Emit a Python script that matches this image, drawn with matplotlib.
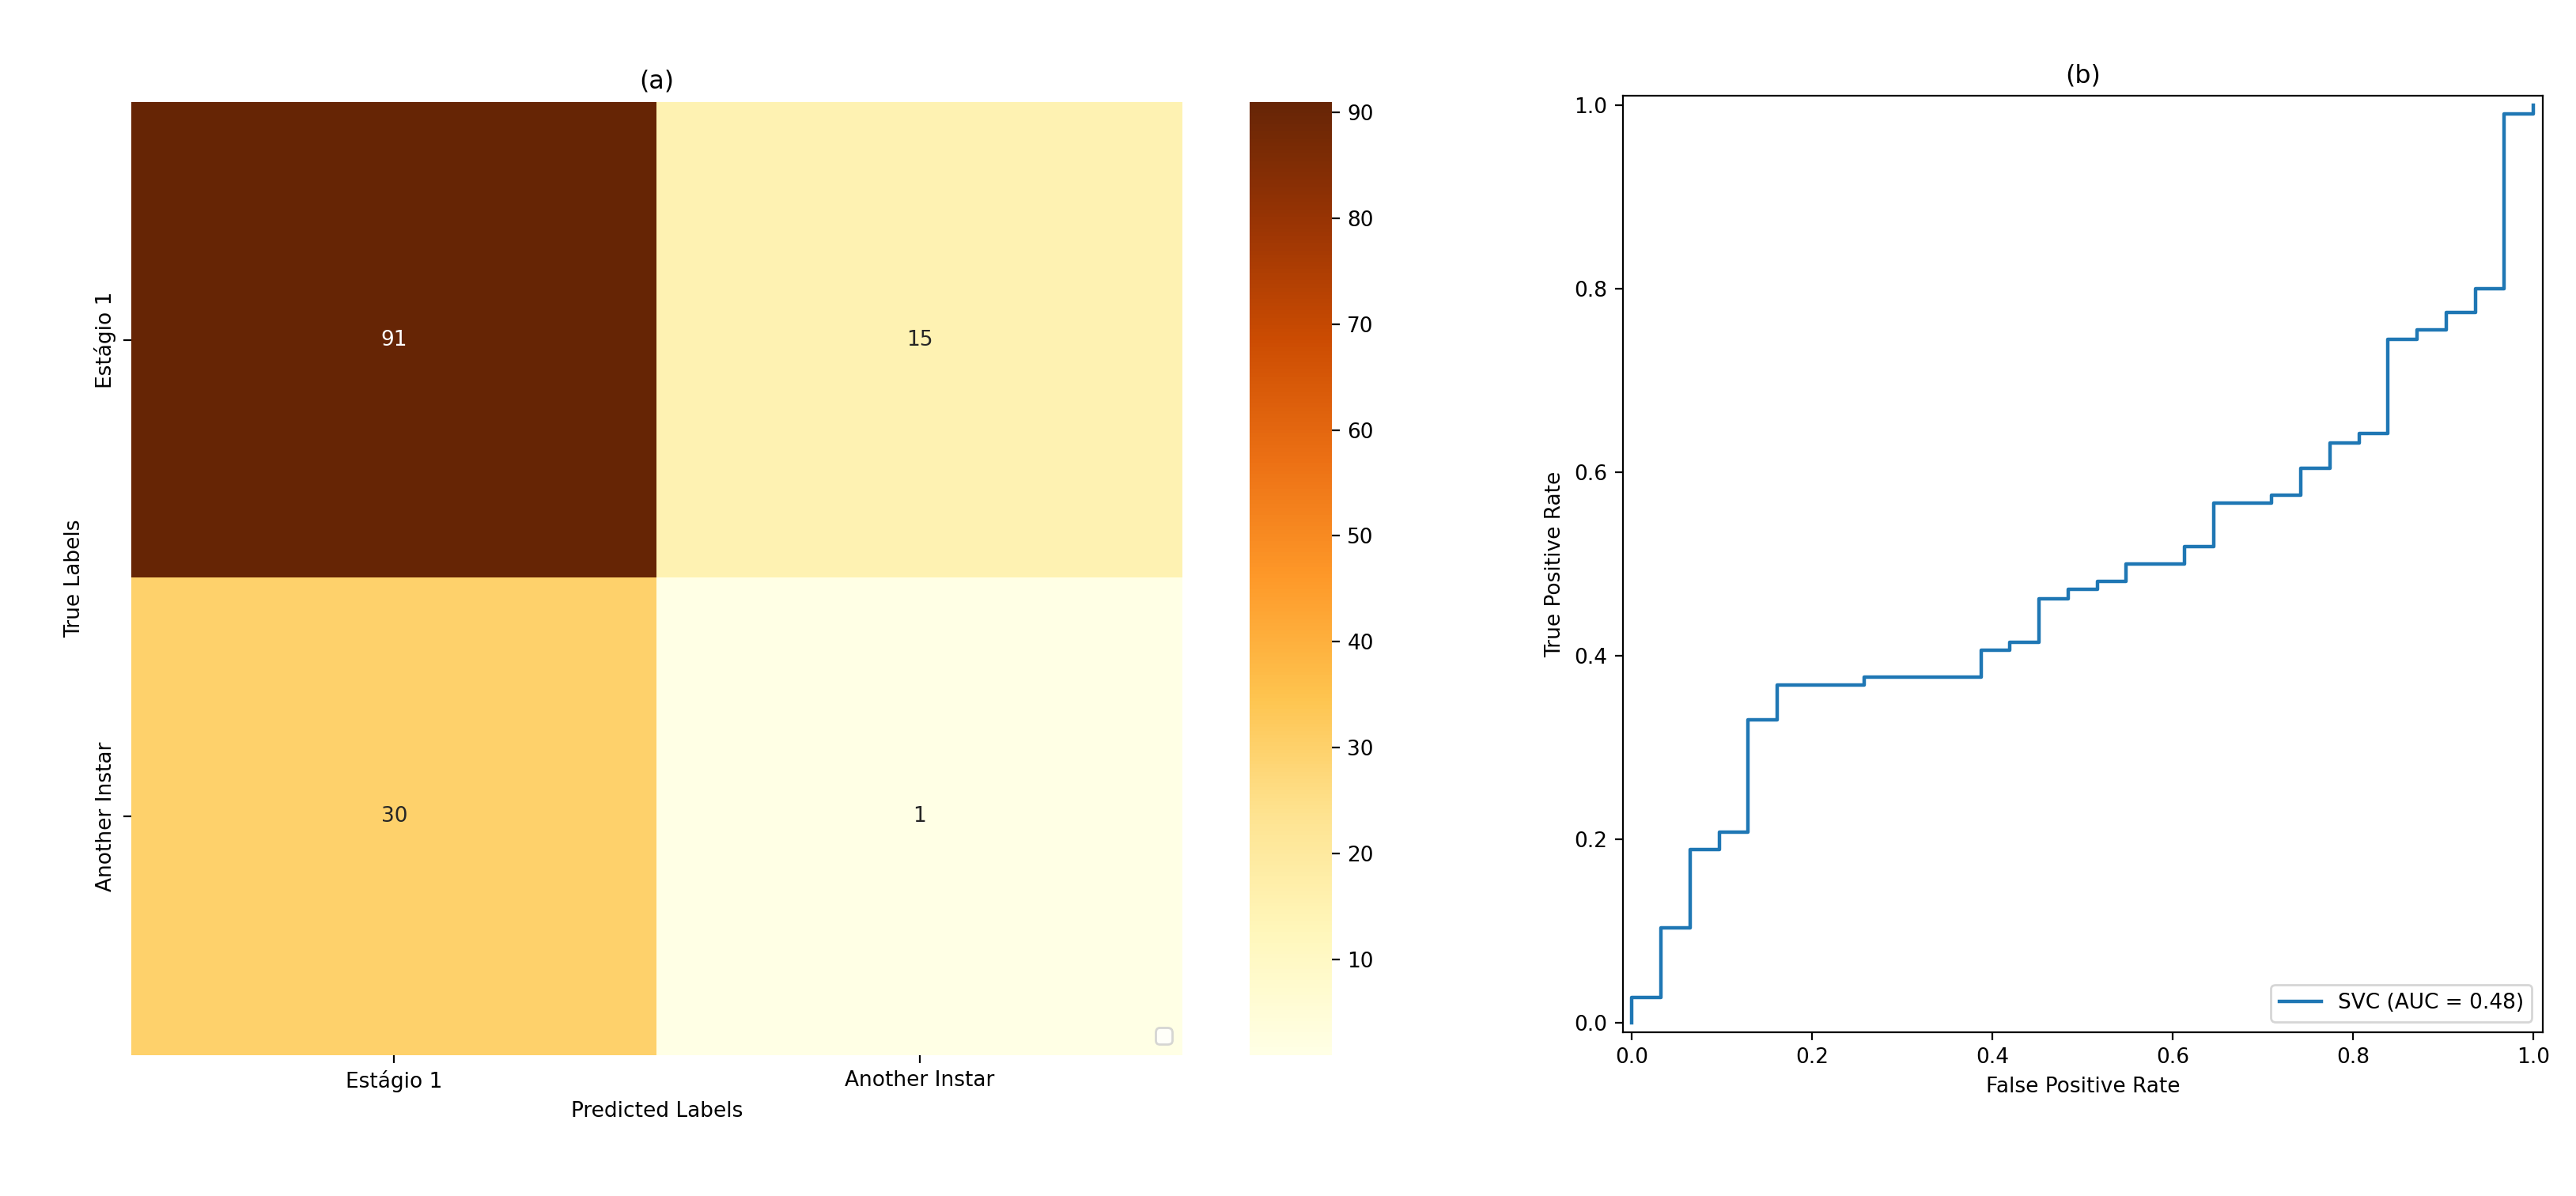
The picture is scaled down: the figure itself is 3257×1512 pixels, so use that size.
import matplotlib
matplotlib.use("Agg")
import matplotlib.pyplot as plt
import numpy as np

labels = ["Estágio 1", "Another Instar"]
cm = np.array([[91, 15], [30, 1]])
fpr = [0, 0, 1/31, 1/31, 2/31, 2/31, 3/31, 3/31, 4/31, 4/31, 5/31, 5/31, 8/31, 8/31, 12/31, 12/31,
       13/31, 13/31, 14/31, 14/31, 15/31, 15/31, 16/31, 16/31, 17/31, 17/31, 19/31, 19/31, 20/31, 20/31,
       22/31, 22/31, 23/31, 23/31, 24/31, 24/31, 25/31, 25/31, 26/31, 26/31, 27/31, 27/31, 28/31, 28/31,
       29/31, 29/31, 30/31, 30/31, 1, 1]
tpr = [0, 0.028, 0.028, 0.104, 0.104, 0.189, 0.189, 0.208, 0.208, 0.33, 0.33, 0.368, 0.368, 0.377, 0.377, 0.406,
       0.406, 0.415, 0.415, 0.462, 0.462, 0.472, 0.472, 0.481, 0.481, 0.5, 0.5, 0.519, 0.519, 0.566,
       0.566, 0.575, 0.575, 0.604, 0.604, 0.632, 0.632, 0.642, 0.642, 0.745, 0.745, 0.755, 0.755, 0.774,
       0.774, 0.80, 0.80, 0.99, 0.99, 1.0]

plt.rcParams["font.size"] = 9.5
fig = plt.figure(figsize=(16.285, 7.56), dpi=200)
ax1 = fig.add_axes([0.051, 0.118, 0.408, 0.797])
cax = fig.add_axes([0.485, 0.118, 0.032, 0.797])
ax2 = fig.add_axes([0.630, 0.137, 0.357, 0.783])

im = ax1.imshow(cm, cmap="YlOrBr", aspect="auto", vmin=cm.min(), vmax=cm.max())
for i in range(2):
    for j in range(2):
        ax1.text(j, i, str(cm[i, j]), ha="center", va="center",
                 color="white" if cm[i, j] > 50 else "#262626")
ax1.set_xticks([0, 1], labels)
ax1.set_yticks([0, 1], labels, rotation=90, va="center")
for s in ax1.spines.values():
    s.set_visible(False)
ax1.set_xlabel("Predicted Labels")
ax1.set_ylabel("True Labels")
ax1.set_title("(a)")
ax1.legend(handles=[], loc="lower right")
cb = fig.colorbar(im, cax=cax)
cb.outline.set_visible(False)
cb.set_ticks([10, 20, 30, 40, 50, 60, 70, 80, 90])

ax2.plot(fpr, tpr, color="#1f77b4", lw=1.6, label="SVC (AUC = 0.48)")
ax2.set_xlim(-0.01, 1.01)
ax2.set_ylim(-0.01, 1.01)
ax2.set_xlabel("False Positive Rate")
ax2.set_ylabel("True Positive Rate")
ax2.set_title("(b)")
ax2.legend(loc="lower right")
fig.savefig("out.png", dpi=200)
